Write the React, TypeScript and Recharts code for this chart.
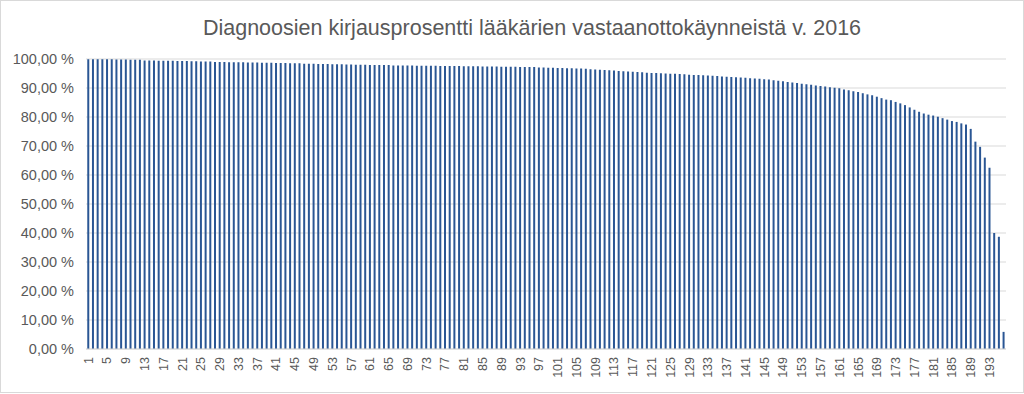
import { BarChart, Bar, XAxis, YAxis, CartesianGrid } from "recharts";

const TITLE = "Diagnoosien kirjausprosentti lääkärien vastaanottokäynneistä v. 2016";

// kirjausprosentti per yksikkö (1..196), luettu kuvasta
const percentages: number[] = [
  99.9, 99.9, 99.9, 99.9, 99.9, 99.9, 99.8, 99.8, 99.8, 99.7, 99.7, 99.7,
  99.5, 99.5, 99.5, 99.4, 99.4, 99.4, 99.4, 99.3,
  99.3, 99.3, 99.2, 99.2, 99.1, 99.1, 99.1, 99.0, 99.0, 99.0,
  98.9, 98.9, 98.9, 98.9, 98.8, 98.8, 98.8, 98.7, 98.7, 98.7,
  98.6, 98.6, 98.6, 98.5, 98.5, 98.5, 98.4, 98.4, 98.4, 98.3,
  98.3, 98.3, 98.2, 98.2, 98.2, 98.1, 98.1, 98.0, 98.0, 98.0,
  97.9, 97.9, 97.9, 97.9, 97.9, 97.8, 97.8, 97.8, 97.8, 97.8,
  97.7, 97.7, 97.7, 97.7, 97.7, 97.6, 97.6, 97.6, 97.6, 97.6,
  97.5, 97.5, 97.5, 97.5, 97.4, 97.4, 97.4, 97.4, 97.3, 97.3,
  97.3, 97.3, 97.2, 97.2, 97.2, 97.2, 97.1, 97.1, 97.0, 97.0,
  96.9, 96.9, 96.8, 96.8, 96.7, 96.7, 96.6, 96.5, 96.4, 96.3,
  96.2, 96.1, 96.0, 95.9, 95.8, 95.7, 95.6, 95.5, 95.4, 95.3,
  95.2, 95.2, 95.1, 95.0, 94.9, 94.9, 94.8, 94.7, 94.6, 94.5,
  94.5, 94.4, 94.3, 94.2, 94.1, 94.0, 93.9, 93.8, 93.7, 93.6,
  93.5, 93.4, 93.3, 93.2, 93.0, 92.9, 92.7, 92.5, 92.3, 92.1,
  91.9, 91.7, 91.5, 91.3, 91.1, 90.9, 90.7, 90.5, 90.3, 90.1,
  89.9, 89.5, 89.2, 88.9, 88.6, 88.2, 87.8, 87.5, 87.0, 86.5,
  86.0, 85.8, 85.2, 84.7, 84.1, 83.3, 82.5, 81.8, 81.2, 80.8,
  80.5, 80.1, 79.6, 79.1, 78.6, 78.3, 77.8, 77.4, 75.9, 71.5,
  69.7, 66.0, 62.5, 40.0, 38.7, 5.9,
];

const yTicks = [0, 10, 20, 30, 40, 50, 60, 70, 80, 90, 100];

const data = percentages.map((value, i) => ({ unit: String(i + 1), value }));

const fmtPct = (v: number) => `${v.toFixed(2).replace(".", ",")} %`;

function XTick(props: any) {
  const { x, y, payload } = props;
  return (
    <text
      x={x}
      y={y}
      dy="0.35em"
      transform={`rotate(-90, ${x}, ${y})`}
      textAnchor="end"
      fontSize={12.5}
      fill="#595959"
    >
      {payload.value}
    </text>
  );
}

export default function App() {
  return (
    <div
      style={{
        position: "absolute",
        left: 0,
        top: 0,
        width: 1022,
        height: 391,
        border: "1px solid #d9d9d9",
        background: "#fff",
        fontFamily: "'Liberation Sans', Arial, sans-serif",
      }}
    >
      <div
        style={{
          position: "absolute",
          top: 15,
          left: 0,
          width: 1062,
          textAlign: "center",
          fontSize: 21.5,
          color: "#595959",
          whiteSpace: "nowrap",
        }}
      >
        {TITLE}
      </div>
      <div style={{ position: "absolute", left: -1, top: -1 }}>
        <BarChart
          width={1024}
          height={394}
          data={data}
          margin={{ top: 59, right: 18, bottom: 5, left: 0 }}
          barCategoryGap="27%"
        >
          <CartesianGrid vertical={false} stroke="#d9d9d9" />
          <XAxis
            dataKey="unit"
            interval={3}
            tickLine={false}
            axisLine={{ stroke: "#d9d9d9" }}
            tick={<XTick />}
            height={40}
          />
          <YAxis
            domain={[0, 100]}
            ticks={yTicks}
            tickFormatter={fmtPct}
            axisLine={false}
            tickLine={false}
            width={86}
            tick={{ fontSize: 14.5, fill: "#595959" }}
            tickMargin={6}
          />
          <Bar dataKey="value" fill="#2A5694" isAnimationActive={false} />
        </BarChart>
      </div>
    </div>
  );
}
